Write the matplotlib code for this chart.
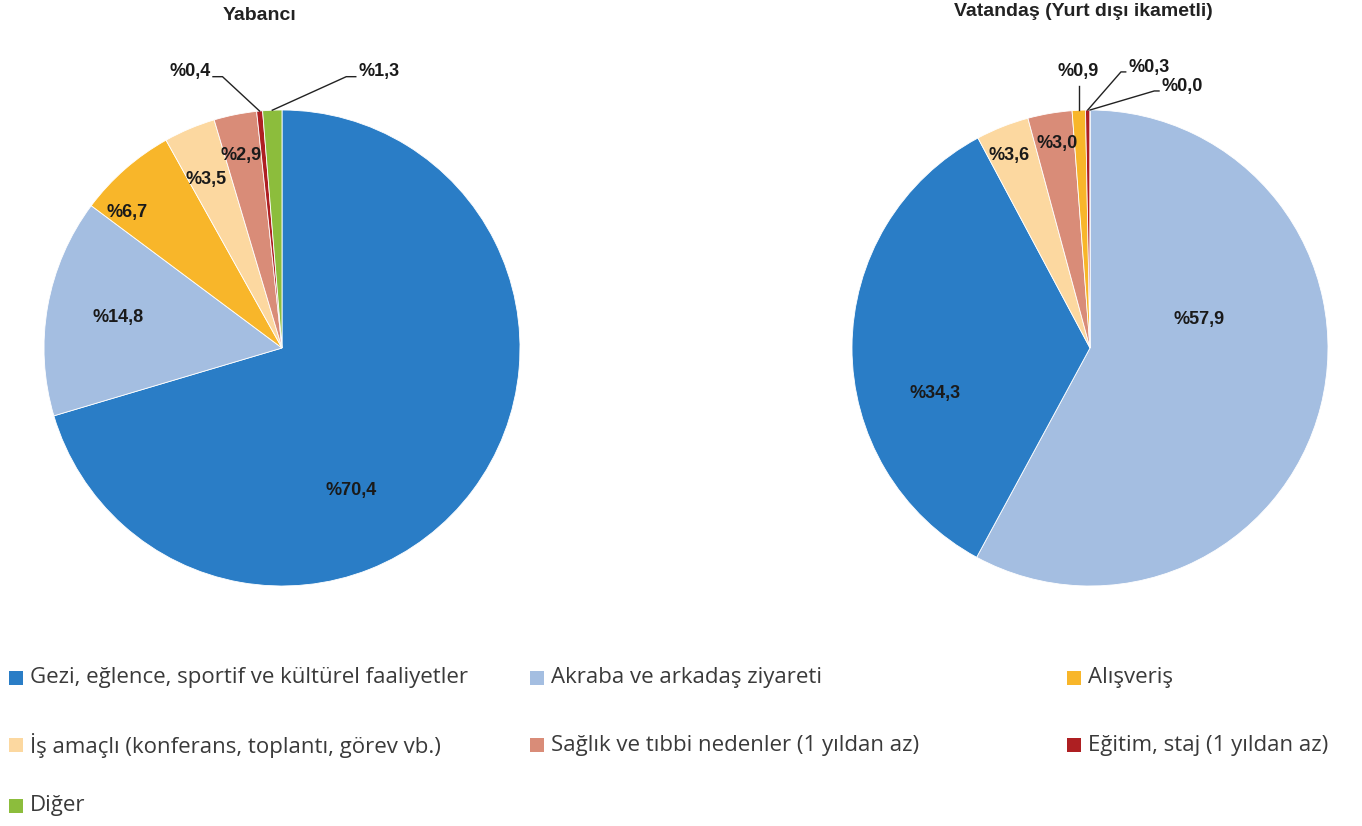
import matplotlib.pyplot as plt
from matplotlib.patches import Rectangle
import numpy as np

categories = ['Gezi, eğlence, sportif ve kültürel faaliyetler',
              'Akraba ve arkadaş ziyareti',
              'Alışveriş',
              'İş amaçlı (konferans, toplantı, görev vb.)',
              'Sağlık ve tıbbi nedenler (1 yıldan az)',
              'Eğitim, staj (1 yıldan az)',
              'Diğer']
yabanci = [70.4, 14.8, 6.7, 3.5, 2.9, 0.4, 1.3]
vatandas = [34.3, 57.9, 0.9, 3.6, 3.0, 0.3, 0.0]
titles = ['Yabancı', 'Vatandaş (Yurt dışı ikametli)']

colors = ['#2A7DC6', '#A4BEE1', '#F8B62A', '#FCD8A0', '#D98C78', '#AE1F22', '#8CBD3C']

# slice order clockwise from 12 o'clock, as in the picture
order_left = [0, 1, 2, 3, 4, 5, 6]
order_right = [1, 0, 3, 4, 2, 5, 6]

W, H = 1362, 826
fig = plt.figure(figsize=(W / 100, H / 100), dpi=100)


def px_axes(cx, cy, r):
    return fig.add_axes([(cx - r) / W, (H - cy - r) / H, 2 * r / W, 2 * r / H])


def fmt(v):
    return '%' + f'{v:.1f}'.replace('.', ',')


# label layout (data coords of each pie, radius = 1)
inside_left = {0: (0.29, -0.60), 1: (-0.69, 0.13), 2: (-0.65, 0.57), 3: (-0.32, 0.71), 4: (-0.17, 0.81)}
inside_right = {1: (0.46, 0.12), 0: (-0.65, -0.19), 3: (-0.34, 0.81), 4: (-0.14, 0.86)}
# leader labels: category -> (text x, text y, ha, elbow x)
leader_left = {5: (-0.30, 1.16, 'right', -0.25), 6: (0.32, 1.16, 'left', 0.27)}
leader_right = {2: (-0.05, 1.16, 'center', None), 5: (0.16, 1.18, 'left', 0.13), 6: (0.30, 1.10, 'left', 0.27)}

lab_font = dict(family='Liberation Sans', fontweight='bold', fontsize=13, color='#1a1a1a')


def draw_pie(ax, values, order, inside, leader):
    vals = [values[i] for i in order]
    cols = [colors[i] for i in order]
    wedges, _ = ax.pie(vals, colors=cols, startangle=90, counterclock=False,
                       wedgeprops=dict(edgecolor='white', linewidth=0.6))
    ax.set_xlim(-1, 1)
    ax.set_ylim(-1, 1)
    ax.set_aspect('equal')
    for w, cat in zip(wedges, order):
        text = fmt(values[cat])
        if cat in inside:
            x, y = inside[cat]
            ax.text(x, y, text, ha='center', va='center', **lab_font)
        elif cat in leader:
            tx, ty, ha, ex = leader[cat]
            mid = np.deg2rad((w.theta1 + w.theta2) / 2)
            px, py = np.cos(mid), np.sin(mid)
            ax.text(tx, ty, text, ha=ha, va='center', clip_on=False, **lab_font)
            if ha == 'center':
                xs, ys = [px, px], [py, ty - 0.06]
            elif ha == 'left':
                xs, ys = [px, ex, tx - 0.01], [py, ty - 0.02, ty - 0.02]
            else:
                xs, ys = [px, ex, tx + 0.01], [py, ty - 0.02, ty - 0.02]
            ax.plot(xs, ys, color='#222222', lw=1.0, clip_on=False)


ax1 = px_axes(282, 348, 238)
draw_pie(ax1, yabanci, order_left, inside_left, leader_left)
ax2 = px_axes(1090, 348, 238)
draw_pie(ax2, vatandas, order_right, inside_right, leader_right)

fig.text(260 / W, 1 - 15 / H, titles[0], ha='center', va='center',
         family='Liberation Sans', fontweight='bold', fontsize=14, color='#222222')
fig.text(1083 / W, 1 - 12 / H, titles[1], ha='center', va='center',
         family='Liberation Sans', fontweight='bold', fontsize=14, color='#222222')

# legend grid
col_x = [9, 530, 1067]
row_y = [678, 745, 806]
for i, cat in enumerate(categories):
    x = col_x[i % 3]
    y = row_y[i // 3]
    fig.patches.append(Rectangle((x / W, 1 - (y + 7) / H), 14 / W, 14 / H,
                                 transform=fig.transFigure, facecolor=colors[i],
                                 edgecolor='none'))
    fig.text((x + 21) / W, 1 - y / H, cat, ha='left', va='center',
             family='Open Sans', fontsize=16, color='#3a3a3a')

fig.savefig('out.png', dpi=100)
